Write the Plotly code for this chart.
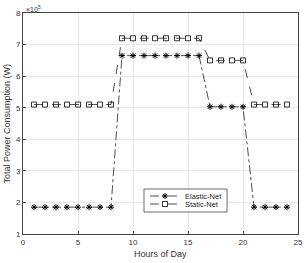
import plotly.graph_objects as go

hours = list(range(1, 25))
elastic_net = [1.85e5]*8 + [6.65e5]*8 + [5.03e5]*4 + [1.85e5]*4
static_net = [5.1e5]*8 + [7.2e5]*8 + [6.5e5]*4 + [5.1e5]*4
x_ticks = [0, 5, 10, 15, 20, 25]
y_ticks = [1e5, 2e5, 3e5, 4e5, 5e5, 6e5, 7e5, 8e5]
y_labels = ["1", "2", "3", "4", "5", "6", "7", "8"]

font = "Liberation Sans, Arial, sans-serif"
fig = go.Figure()
fig.add_trace(go.Scatter(
    x=hours, y=elastic_net, name="Elastic-Net", mode="lines+markers", legend="legend",
    line=dict(color="black", width=0.7, dash="dashdot"),
    marker=dict(symbol="asterisk-open", size=5, color="black", line=dict(color="black", width=1)),
))
fig.add_trace(go.Scatter(
    x=hours, y=static_net, name="Static-Net", mode="lines+markers", legend="legend2",
    line=dict(color="black", width=0.7, dash="dash"),
    marker=dict(symbol="square-open", size=5, color="black", line=dict(color="black", width=0.8)),
))
axis_common = dict(
    showline=True, linecolor="#444", linewidth=0.8, mirror=True,
    ticks="inside", ticklen=3, tickcolor="#444", automargin=False,
    showgrid=True, gridcolor="#e6e6e6", gridwidth=0.8, zeroline=False,
    tickfont=dict(family=font, size=8, color="#333"),
)
fig.update_xaxes(range=[0, 25], tickvals=x_ticks, **axis_common)
fig.update_yaxes(range=[1e5, 8e5], tickvals=y_ticks, ticktext=y_labels, **axis_common)
fig.add_annotation(x=0, y=1, xref="paper", yref="paper", xanchor="left", yanchor="bottom",
                   text="×10<sup>5</sup>", showarrow=False,
                   font=dict(family=font, size=7, color="#333"), xshift=1, yshift=-2)
fig.add_annotation(x=0.5, y=0, xref="paper", yref="paper", xanchor="center", yanchor="top",
                   text="Hours of Day", showarrow=False,
                   font=dict(family=font, size=9, color="#333"), yshift=-13)
fig.add_annotation(x=0, y=0.5, xref="paper", yref="paper", xanchor="right", yanchor="middle",
                   text="Total Power Consumption (W)", showarrow=False, textangle=-90,
                   font=dict(family=font, size=9, color="#333"), xshift=-10)
# legend frame
fig.add_shape(type="rect", xref="paper", yref="paper", x0=0.44, x1=0.742, y0=0.0995, y1=0.2036,
              line=dict(color="#444", width=0.8), fillcolor="white", layer="above")
leg_common = dict(xanchor="left", yanchor="middle", bgcolor="rgba(0,0,0,0)", borderwidth=0,
                  font=dict(family=font, size=7.5, color="#222"), itemwidth=30, tracegroupgap=0)
fig.update_layout(
    width=307, height=263,
    margin=dict(l=23, r=9, t=13, b=29),
    paper_bgcolor="white", plot_bgcolor="white",
    showlegend=True,
    legend=dict(x=0.4436, y=0.172, **leg_common),
    legend2=dict(x=0.4436, y=0.1357, **leg_common),
)
fig.write_html("out.html", config={"displayModeBar": False},
               post_script="document.body.style.margin='0';")
